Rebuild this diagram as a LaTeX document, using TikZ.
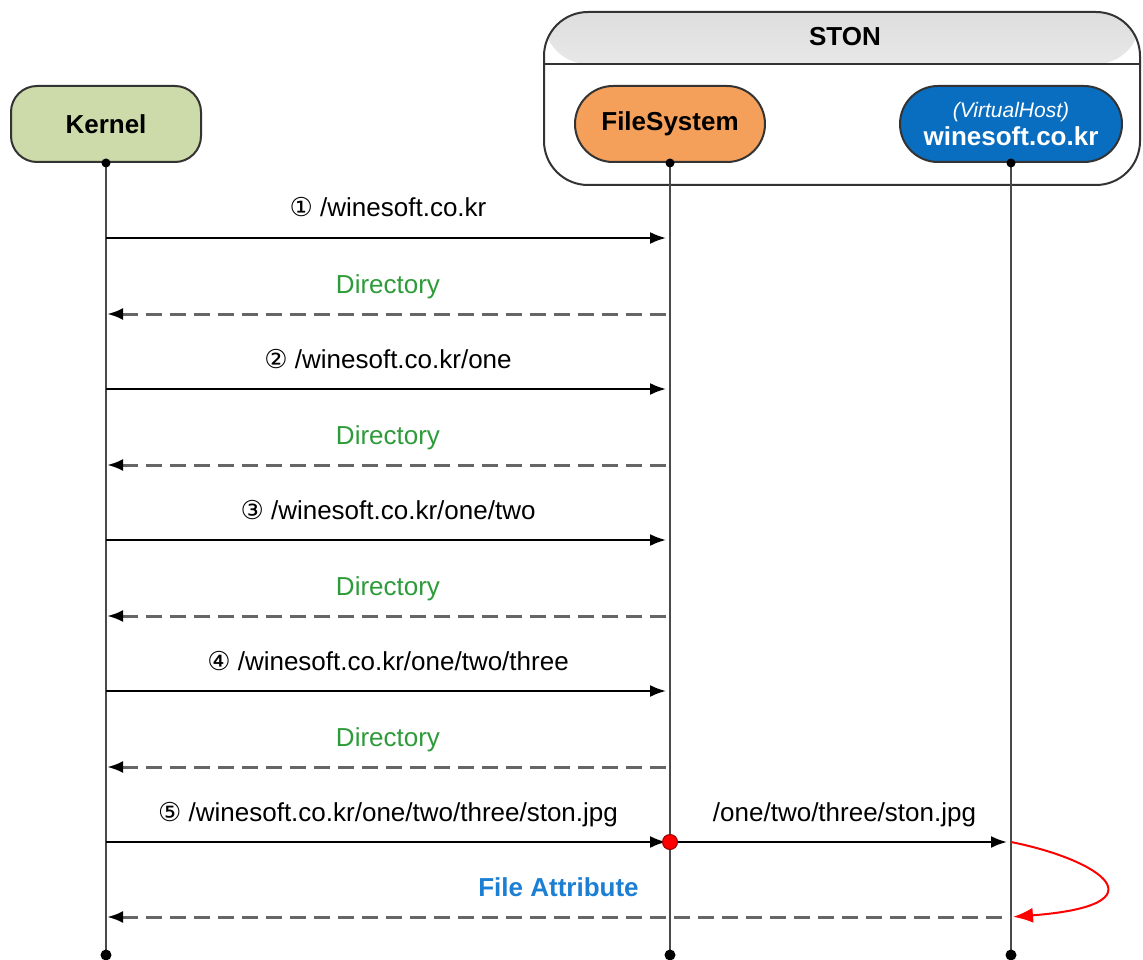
\documentclass[tikz,border=0pt]{standalone}
\usepackage{fontspec}
\setmainfont{Liberation Sans}
\newfontfamily\circfont{DejaVu Sans}
\usetikzlibrary{arrows.meta}
\definecolor{inkdark}{HTML}{333333}
\definecolor{lifegray}{HTML}{4A4A4A}
\definecolor{dashgray}{HTML}{666666}
\definecolor{kernelfill}{HTML}{CCDBA9}
\definecolor{fsfill}{HTML}{F5A05A}
\definecolor{vhostfill}{HTML}{0A6EC0}
\definecolor{dirgreen}{HTML}{2E9B3A}
\definecolor{attrblue}{HTML}{1C7FD3}
\newcommand\msgfont{\fontsize{26}{30}\selectfont}

\begin{document}
\begin{tikzpicture}[x=1pt, y=-1pt, font=\msgfont,
  actor/.style={draw=inkdark, line width=2pt, minimum width=190pt, minimum height=76pt, inner sep=0pt,
    align=center, font=\msgfont\bfseries},
  life/.style={draw=lifegray, line width=2.4pt},
  call/.style={-{Latex[length=16pt,width=12pt]}, draw=black, line width=2.2pt, shorten >=4pt},
  reply/.style={{Latex[length=16pt,width=12pt,color=black]}-, draw=dashgray, line width=3pt,
    dash pattern=on 16pt off 8pt, shorten <=1pt},
  lbl/.style={midway, anchor=base, yshift=21pt, inner sep=0pt},
  dot/.style={circle, fill=black, inner sep=0pt, minimum size=9pt}]
\useasboundingbox (0,0) rectangle (1143,960);

\node[draw=inkdark, line width=2pt, rounded corners=44pt, minimum width=596pt, minimum height=173pt,
  path picture={
    \shade[top color=black!13, bottom color=white] (path picture bounding box.north west)
      rectangle ([yshift=-52pt]path picture bounding box.north east);
    \draw[inkdark, line width=2pt] ([yshift=-52pt]path picture bounding box.north west)
      -- ([yshift=-52pt]path picture bounding box.north east);}] (ston) at (842,98.5) {};
\node[font=\msgfont\bfseries] (stontitle) at (845,37) {STON};

\node[actor, fill=kernelfill, rounded corners=26pt] (kernel) at (106,124) {Kernel};
\node[actor, fill=fsfill, rounded corners=38pt] (fs) at (670,124) {FileSystem};
\node[actor, fill=vhostfill, text=white, rounded corners=38pt, minimum width=222pt] (vhost) at (1011,124)
  {{\fontsize{21}{23}\selectfont\mdseries\itshape (VirtualHost)}\\[-2pt]winesoft.co.kr};

\foreach \a in {kernel,fs,vhost}{
  \draw[life] (\a.south) -- (\a.south |- 0,955);
  \node[dot] at (\a.south) {};
  \node[dot, minimum height=11pt] at (\a.south |- 0,955) {};
}

\draw[call] (kernel |- 0,238) -- (fs |- 0,238) node[lbl] {{\circfont ①} /winesoft.co.kr};
\draw[reply] (kernel |- 0,314) -- (fs |- 0,314) node[lbl, text=dirgreen] {Directory};
\draw[call] (kernel |- 0,389) -- (fs |- 0,389) node[lbl] {{\circfont ②} /winesoft.co.kr/one};
\draw[reply] (kernel |- 0,465) -- (fs |- 0,465) node[lbl, text=dirgreen] {Directory};
\draw[call] (kernel |- 0,540) -- (fs |- 0,540) node[lbl] {{\circfont ③} /winesoft.co.kr/one/two};
\draw[reply] (kernel |- 0,616) -- (fs |- 0,616) node[lbl, text=dirgreen] {Directory};
\draw[call] (kernel |- 0,691) -- (fs |- 0,691) node[lbl] {{\circfont ④} /winesoft.co.kr/one/two/three};
\draw[reply] (kernel |- 0,767) -- (fs |- 0,767) node[lbl, text=dirgreen] {Directory};
\draw[call] (kernel |- 0,842) -- (fs |- 0,842) node[lbl] {{\circfont ⑤} /winesoft.co.kr/one/two/three/ston.jpg};
\node[circle, fill=red, draw=red!60!black, line width=1pt, minimum size=15pt, inner sep=0pt] (hit) at (fs |- 0,842) {};
\draw[call] (hit) -- (vhost |- 0,842) node[lbl] {/one/two/three/ston.jpg};
\draw[red, line width=2pt, -{Latex[length=20pt,width=15pt]}, shorten >=2pt]
  (vhost |- 0,842) .. controls +(90,18) and +(155,-12) .. (vhost |- 0,917);
\draw[reply] (kernel |- 0,917) -- (vhost |- 0,917)
  node[lbl, text=attrblue, font=\msgfont\bfseries] {File Attribute};
\end{tikzpicture}
\end{document}
